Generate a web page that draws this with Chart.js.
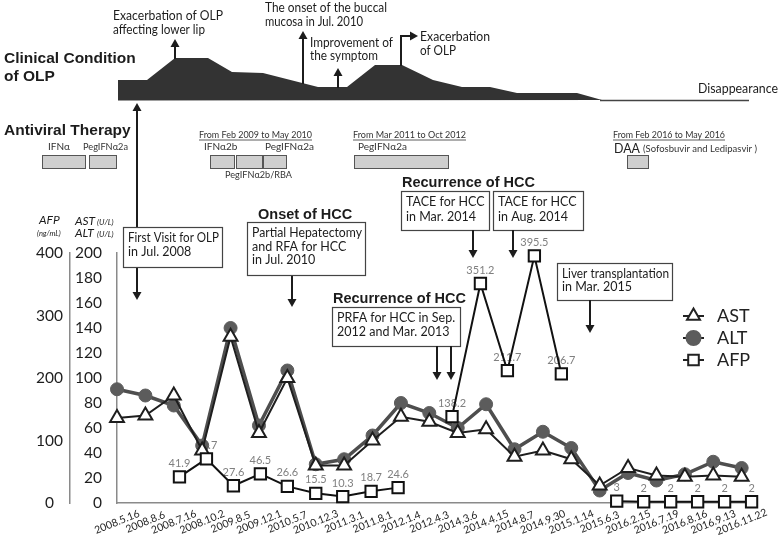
<!DOCTYPE html>
<html>
<head>
<meta charset="utf-8">
<script src="https://cdn.jsdelivr.net/npm/chart.js@4.4.1/dist/chart.umd.min.js"></script>
<style>
  html, body { margin: 0; padding: 0; background: #fff; }
  #c { display: block; }
</style>
</head>
<body>
<canvas id="c" width="781" height="546"></canvas>
<script>
// Datos do gráfico
const dates = ['2008.5.16', '2008.8.6', '2008.7.16', '2008.10.2', '2009.8.5', '2009.12.1', '2010.5.7',
    '2010.12.3', '2011.3.1', '2011.8.1', '2012.1.4', '2012.4.3', '2014.3.6', '2014.4.15', '2014.8.7',
    '2014.9.30', '2015.1.14', '2015.6.3', '2016.2.15', '2016.7.19', '2016.8.16', '2016.9.13', '2016.11.22'];
const astValues = [68, 70, 86, 42, 133, 56, 100, 30, 30, 50, 69, 65, 56, 59, 37, 42, 35, 14, 28, 22, 21, 22, 21];
const altValues = [91, 86, 78, 46, 140, 62, 106, 31, 35, 54, 80, 72, 60, 79, 43, 57, 44, 10, 24, 18, 23, 33, 28];
// AFP was measured on its own dates: position along the date axis (in date slots) and value
const afpPositions = [2.2, 3.15, 4.1, 5.05, 6.0, 7.0, 7.95, 8.95, 9.9, 10.85, 11.8, 12.8, 13.75, 14.7, 15.65,
    16.6, 17.6, 18.55, 19.5, 20.45, 21.4, 22.35];
const afpValues = [41.9, 70.7, 27.6, 46.5, 26.6, 15.5, 10.3, 18.7, 24.6, null, 138.2, 351.2, 211.7, 395.5, 206.7,
    null, 3, 2, 2, 2, 2, 2];
const afpLabels = ['41.9', '70.7', '27.6', '46.5', '26.6', '15.5', '10.3', '18.7', '24.6', '', '138.2', '351.2',
    '211.7', '395.5', '206.7', '', '3', '2', '2', '2', '2', '2'];
const astTicks = [0, 20, 40, 60, 80, 100, 120, 140, 160, 180, 200];
const afpTicks = [0, 100, 200, 300, 400];

const FONT = 'Lato, "Open Sans", sans-serif';
const BOLD = '"Liberation Sans", Arial, sans-serif';
const INK = '#1c1c1c';

// helpers de desenho
const arrow = (ctx, x1, y1, x2, y2) => {
    const ang = Math.atan2(y2 - y1, x2 - x1);
    const len = 8, half = 4.5;
    ctx.save();
    ctx.strokeStyle = INK;
    ctx.fillStyle = INK;
    ctx.lineWidth = 2;
    ctx.beginPath();
    ctx.moveTo(x1, y1);
    ctx.lineTo(x2 - Math.cos(ang) * (len - 1), y2 - Math.sin(ang) * (len - 1));
    ctx.stroke();
    ctx.beginPath();
    ctx.moveTo(x2, y2);
    ctx.lineTo(x2 - Math.cos(ang) * len - Math.sin(ang) * half, y2 - Math.sin(ang) * len + Math.cos(ang) * half);
    ctx.lineTo(x2 - Math.cos(ang) * len + Math.sin(ang) * half, y2 - Math.sin(ang) * len - Math.cos(ang) * half);
    ctx.closePath();
    ctx.fill();
    ctx.restore();
};

const text = (ctx, s, x, y, font, opts = {}) => {
    ctx.save();
    ctx.font = font;
    ctx.fillStyle = opts.color || INK;
    ctx.textAlign = opts.align || 'left';
    ctx.textBaseline = opts.baseline || 'alphabetic';
    if (opts.maxWidth) ctx.fillText(s, x, y, opts.maxWidth);
    else ctx.fillText(s, x, y);
    if (opts.underline) {
        const w = Math.min(ctx.measureText(s).width, opts.maxWidth || 1e9);
        ctx.strokeStyle = opts.color || INK;
        ctx.lineWidth = 0.8;
        ctx.beginPath();
        ctx.moveTo(x, y + 2);
        ctx.lineTo(x + w, y + 2);
        ctx.stroke();
    }
    ctx.restore();
};

const box = (ctx, x, y, w, h, lines, lineH) => {
    ctx.save();
    ctx.fillStyle = '#fff';
    ctx.strokeStyle = '#444';
    ctx.lineWidth = 1.2;
    ctx.fillRect(x, y, w, h);
    ctx.strokeRect(x + 0.5, y + 0.5, w, h);
    ctx.restore();
    lines.forEach((s, i) => text(ctx, s, x + 5, y + 15 + i * lineH, '12.5px ' + FONT, { maxWidth: w - 8 }));
};

const bar = (ctx, x, y, w, h) => {
    ctx.save();
    ctx.fillStyle = '#cfcfcf';
    ctx.strokeStyle = '#555';
    ctx.lineWidth = 1;
    ctx.fillRect(x, y, w, h);
    ctx.strokeRect(x + 0.5, y + 0.5, w, h);
    ctx.restore();
};

// Rótulos do AFP (por baixo das linhas, como no original)
const afpLabelPlugin = {
    id: 'afpLabels',
    beforeDatasetsDraw: (chart) => {
        const { ctx } = chart;
        const meta = chart.getDatasetMeta(2);
        meta.data.forEach((pt, i) => {
            if (afpValues[i] === null || !afpLabels[i]) return;
            text(ctx, afpLabels[i], pt.x, pt.y - 10, '11px ' + FONT, { align: 'center', color: '#808080' });
        });
    }
};

// Datas do eixo X, inclinadas e centradas no tick
const dateLabelPlugin = {
    id: 'dateLabels',
    afterDraw: (chart) => {
        const { ctx } = chart;
        const xs = chart.scales.x;
        dates.forEach((d, i) => {
            const px = xs.getPixelForValue(i);
            ctx.save();
            ctx.translate(px, 522);
            ctx.rotate(-22 * Math.PI / 180);
            ctx.font = '10.5px ' + FONT;
            ctx.fillStyle = '#1e1e1e';
            ctx.textAlign = 'center';
            ctx.textBaseline = 'middle';
            ctx.fillText(d, 0, 0);
            ctx.restore();
        });
    }
};

// Legenda
const legendPlugin = {
    id: 'customLegend',
    afterDraw: (chart) => {
        const { ctx } = chart;
        const items = [
            { label: 'AST', style: 'triangle', radius: 7.5, fill: '#fff', stroke: '#222' },
            { label: 'ALT', style: 'circle', radius: 7, fill: '#5c5c5c', stroke: '#5c5c5c' },
            { label: 'AFP', style: 'rect', radius: 7.5, fill: '#fff', stroke: '#222' }
        ];
        items.forEach((it, i) => {
            const y = 316 + i * 22;
            ctx.save();
            ctx.strokeStyle = '#222';
            ctx.lineWidth = 2;
            ctx.beginPath();
            ctx.moveTo(683, y);
            ctx.lineTo(704, y);
            ctx.stroke();
            ctx.fillStyle = it.fill;
            ctx.strokeStyle = it.stroke;
            ctx.lineWidth = 2;
            Chart.helpers.drawPoint(ctx, { pointStyle: it.style, radius: it.radius, rotation: 0, borderWidth: 2 }, 693.5, y);
            ctx.restore();
            text(ctx, it.label, 717, y, '18px ' + FONT, { baseline: 'middle', color: '#222' });
        });
    }
};

// Parte de cima: condição clínica, terapia antiviral e anotações
const annotationPlugin = {
    id: 'annotations',
    afterDraw: (chart) => {
        const { ctx } = chart;

        // títulos
        text(ctx, 'Clinical Condition', 4, 63, 'bold 15.5px ' + BOLD);
        text(ctx, 'of OLP', 4, 81, 'bold 15.5px ' + BOLD);
        text(ctx, 'Antiviral Therapy', 4, 135, 'bold 15.5px ' + BOLD);

        // silhueta da condição do OLP
        const shape = [[118, 80], [147, 80], [175, 58], [208, 58], [232, 72], [263, 73], [318, 87], [347, 87],
            [375, 65], [402, 65], [433, 80], [462, 87], [490, 87], [517, 93], [577, 93], [602, 100]];
        ctx.save();
        ctx.fillStyle = '#333';
        ctx.beginPath();
        ctx.moveTo(118, 100.5);
        shape.forEach(([x, y]) => ctx.lineTo(x, y));
        ctx.closePath();
        ctx.fill();
        ctx.strokeStyle = '#444';
        ctx.lineWidth = 1.5;
        ctx.beginPath();
        ctx.moveTo(600, 100.5);
        ctx.lineTo(749, 100.5);
        ctx.stroke();
        ctx.restore();
        text(ctx, 'Disappearance', 698, 93, '13px ' + FONT, { maxWidth: 80 });

        const f13 = '13px ' + FONT;
        arrow(ctx, 175, 59, 175, 39);
        text(ctx, 'Exacerbation of OLP', 113, 20, f13, { maxWidth: 110 });
        text(ctx, 'affecting lower lip', 113, 34, f13, { maxWidth: 92 });

        arrow(ctx, 303, 84, 303, 31);
        text(ctx, 'The onset of the buccal', 265, 12, f13, { maxWidth: 122 });
        text(ctx, 'mucosa in Jul. 2010', 265, 26, f13, { maxWidth: 98 });

        arrow(ctx, 338, 88, 338, 68);
        text(ctx, 'Improvement of', 310, 47, f13, { maxWidth: 83 });
        text(ctx, 'the symptom', 310, 60, f13, { maxWidth: 68 });

        ctx.save();
        ctx.strokeStyle = INK;
        ctx.lineWidth = 2;
        ctx.beginPath();
        ctx.moveTo(401, 66);
        ctx.lineTo(401, 36);
        ctx.stroke();
        ctx.restore();
        arrow(ctx, 400, 36, 418, 36);
        text(ctx, 'Exacerbation', 420, 41, f13, { maxWidth: 70 });
        text(ctx, 'of OLP', 420, 55, f13, { maxWidth: 36 });

        // terapia antiviral
        const f10 = '10px ' + FONT;
        text(ctx, 'IFNα', 48, 150, f10, { color: '#333' });
        text(ctx, 'PegIFNα2a', 83, 150, f10, { color: '#333', maxWidth: 45 });
        bar(ctx, 42, 155, 43, 13);
        bar(ctx, 89, 155, 27, 13);

        text(ctx, 'From Feb 2009 to May 2010', 199, 138, f10, { color: '#333', underline: true, maxWidth: 113 });
        text(ctx, 'IFNα2b', 204, 150, f10, { color: '#333' });
        text(ctx, 'PegIFNα2a', 265, 150, f10, { color: '#333', maxWidth: 50 });
        bar(ctx, 210, 155, 24, 13);
        bar(ctx, 236, 155, 26, 13);
        bar(ctx, 263, 155, 23, 13);
        text(ctx, 'PegIFNα2b/RBA', 225, 178, f10, { color: '#333', maxWidth: 67 });

        text(ctx, 'From Mar 2011 to Oct 2012', 353, 138, f10, { color: '#333', underline: true, maxWidth: 113 });
        text(ctx, 'PegIFNα2a', 358, 150, f10, { color: '#333', maxWidth: 50 });
        bar(ctx, 354, 155, 94, 13);

        text(ctx, 'From Feb 2016 to May 2016', 613, 138, f10, { color: '#333', underline: true, maxWidth: 112 });
        text(ctx, 'DAA', 614, 153, '14px ' + FONT, { color: '#222', maxWidth: 26 });
        text(ctx, '(Sofosbuvir and Ledipasvir )', 643, 152, f10, { color: '#333', maxWidth: 114 });
        bar(ctx, 627, 155, 21, 13);

        // primeira visita
        arrow(ctx, 137, 290, 137, 103);
        arrow(ctx, 137, 150, 137, 300);
        box(ctx, 123, 227, 99, 40, ['First Visit for OLP', 'in Jul. 2008'], 13.5);

        // HCC
        const b14 = 'bold 14.5px ' + BOLD;
        text(ctx, 'Onset of HCC', 258, 219, b14);
        arrow(ctx, 292, 275, 292, 307);
        box(ctx, 247, 222, 118, 53, ['Partial Hepatectomy', 'and RFA for HCC', 'in Jul. 2010'], 13.5);

        text(ctx, 'Recurrence of HCC', 333, 303, b14);
        box(ctx, 332, 307, 128, 39, ['PRFA for HCC in Sep.', '2012 and Mar. 2013'], 13.5);
        arrow(ctx, 437, 346, 437, 380);
        arrow(ctx, 451, 346, 451, 380);

        text(ctx, 'Recurrence of HCC', 402, 187, b14);
        box(ctx, 401, 191, 88, 39, ['TACE for HCC', 'in Mar. 2014'], 15);
        box(ctx, 493, 191, 90, 39, ['TACE for HCC', 'in Aug. 2014'], 15);
        arrow(ctx, 473, 230, 473, 258);
        arrow(ctx, 513, 230, 513, 258);

        box(ctx, 557, 263, 115, 37, ['Liver transplantation', 'in Mar. 2015'], 12.5);
        arrow(ctx, 590, 300, 590, 333);

        // títulos dos eixos
        text(ctx, 'AFP', 39, 224, 'italic 12px ' + FONT);
        text(ctx, '(ng/mL)', 37, 236, 'italic 7.5px ' + FONT);
        text(ctx, 'AST', 75, 225, 'italic 12px ' + FONT);
        text(ctx, '(U/L)', 97, 225, 'italic 8px ' + FONT);
        text(ctx, 'ALT', 75, 237, 'italic 12px ' + FONT);
        text(ctx, '(U/L)', 97, 237, 'italic 8px ' + FONT);
    }
};

const ctx = document.getElementById('c').getContext('2d');
const chart = new Chart(ctx, {
    type: 'line',
    data: {
        datasets: [
            {
                label: 'AST',
                data: astValues.map((v, i) => ({ x: i, y: v })),
                yAxisID: 'y',
                order: 1,
                borderColor: '#1e1e1e',
                borderWidth: 2,
                pointStyle: 'triangle',
                pointRadius: 8,
                pointBackgroundColor: '#fff',
                pointBorderColor: '#1e1e1e',
                pointBorderWidth: 2
            },
            {
                label: 'ALT',
                data: altValues.map((v, i) => ({ x: i, y: v })),
                yAxisID: 'y',
                order: 2,
                borderColor: '#4e4e4e',
                borderWidth: 3.5,
                pointStyle: 'circle',
                pointRadius: 6.5,
                pointBackgroundColor: '#5c5c5c',
                pointBorderColor: '#5c5c5c',
                pointBorderWidth: 1
            },
            {
                label: 'AFP',
                data: afpValues.map((v, i) => ({ x: afpPositions[i], y: v })),
                yAxisID: 'yAfp',
                order: 0,
                spanGaps: false,
                borderColor: '#111',
                borderWidth: 2,
                pointStyle: 'rect',
                pointRadius: 8,
                pointBackgroundColor: '#fff',
                pointBorderColor: '#111',
                pointBorderWidth: 2
            }
        ]
    },
    options: {
        responsive: false,
        animation: false,
        events: [],
        clip: false,
        layout: { padding: { top: 253, right: 28, left: 0, bottom: 0 } },
        plugins: { legend: { display: false }, tooltip: { enabled: false } },
        scales: {
            x: {
                type: 'linear',
                min: 0,
                max: 22.4,
                grid: { display: false, drawTicks: false },
                ticks: { display: false },
                border: { color: '#8a8a8a', width: 1.5 },
                afterFit: (s) => { s.height = 43; }
            },
            y: {
                position: 'left',
                weight: 0,
                min: 0,
                max: 200,
                afterBuildTicks: (s) => { s.ticks = astTicks.map(v => ({ value: v })); },
                grid: { display: false, drawTicks: false },
                border: { color: '#8a8a8a', width: 1.5 },
                ticks: { padding: 15, color: '#1e1e1e', font: { family: 'Lato', size: 15.5 } },
                afterFit: (s) => { s.width = 47; }
            },
            yAfp: {
                position: 'left',
                weight: 1,
                min: 0,
                max: 400,
                afterBuildTicks: (s) => { s.ticks = afpTicks.map(v => ({ value: v })); },
                grid: { display: false, drawTicks: false },
                border: { color: '#8a8a8a', width: 1.5 },
                ticks: { padding: 7, crossAlign: 'center', color: '#1e1e1e', font: { family: 'Lato', size: 15.5 } },
                afterFit: (s) => { s.width = 70; }
            }
        }
    },
    plugins: [afpLabelPlugin, dateLabelPlugin, legendPlugin, annotationPlugin]
});
</script>
</body>
</html>
